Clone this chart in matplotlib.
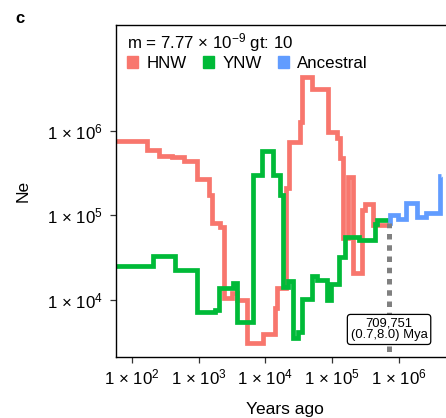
import numpy as np
import matplotlib
matplotlib.use("Agg")
import matplotlib.pyplot as plt
from matplotlib.patches import Patch

plt.rcParams['font.family'] = ['Liberation Sans', 'DejaVu Sans']
plt.rcParams['mathtext.fontset'] = 'custom'
plt.rcParams['mathtext.rm'] = 'Liberation Sans'
plt.rcParams['mathtext.it'] = 'Liberation Sans:italic'
plt.rcParams['mathtext.default'] = 'regular'

# step edges (years ago) and Ne levels between them
hnw_t = [40, 168, 259, 397, 607, 959, 1452, 1577, 2099, 2434, 3141, 3732, 5322, 9141,
         13970, 14820, 20420, 22870, 33060, 35070, 49530, 85970, 119700, 131300, 144200,
         174900, 207600, 277400, 311000, 413900, 709751]
hnw_ne = [755000, 591000, 506000, 485000, 438000, 266000, 174000, 80400, 72100, 10450,
          11970, 10110, 3070, 3950, 8020, 13830, 210300, 741000, 1277000, 4276000,
          3085000, 973000, 813000, 472000, 53500, 286000, 20630, 115500, 134900, 76800]

ynw_t = [40, 210, 445, 959, 1766, 2048, 3319, 3808, 6476, 8834, 13180, 16600, 18590,
         22080, 25700, 31190, 35070, 49530, 58780, 82990, 96330, 124700, 153400, 255400,
         438600, 475100, 709751]
ynw_ne = [25160, 33030, 22560, 7250, 7600, 13940, 15970, 5525, 299500, 580100, 299500,
          173800, 14320, 16860, 3517, 4207, 10170, 19160, 17180, 9970, 15420, 32590,
          55840, 51060, 78900, 89200]

anc_t = [709751, 730000, 979000, 1277000, 1885000, 2547000, 4121000, 4190000]
anc_ne = [81100, 100800, 89730, 140900, 94700, 105600, 291400]

split_year = 709751
split_text = "709,751\n(0.7,8.0) Mya"

x_ticks = [1e2, 1e3, 1e4, 1e5, 1e6]
x_labels = ["1 × 10$^{2}$", "1 × 10$^{3}$", "1 × 10$^{4}$", "1 × 10$^{5}$", "1 × 10$^{6}$"]
y_ticks = [1e4, 1e5, 1e6]
y_labels = ["1 × 10$^{4}$", "1 × 10$^{5}$", "1 × 10$^{6}$"]

colors = {'HNW': '#F8766D', 'YNW': '#00BA38', 'Ancestral': '#619CFF'}


def stairs(edges, levels):
    xs, ys = [], []
    for i, lv in enumerate(levels):
        xs += [edges[i], edges[i + 1]]
        ys += [lv, lv]
    return xs, ys


fig = plt.figure(figsize=(4.46, 4.18), dpi=100)
ax = fig.add_axes([0.2601, 0.1459, 0.7399, 0.7943])
ax.set_xscale('log')
ax.set_yscale('log')

for name, t, ne in [('HNW', hnw_t, hnw_ne), ('YNW', ynw_t, ynw_ne),
                    ('Ancestral', anc_t, anc_ne)]:
    xs, ys = stairs(t, ne)
    ax.plot(xs, ys, color=colors[name], lw=3.4, solid_joinstyle='miter',
            solid_capstyle='butt', zorder=2)

ax.plot([split_year, split_year], [1, hnw_ne[-1] * 1.05], color='#808080', lw=3.6,
        linestyle=(0, (1.1, 1.15)), dash_capstyle='butt', zorder=3)
ax.annotate(split_text, xy=(split_year, 0.083), xycoords=('data', 'axes fraction'),
            ha='center', va='center', fontsize=9.4, linespacing=0.95, zorder=5,
            bbox=dict(boxstyle='round,pad=0.25,rounding_size=0.25', fc='white',
                      ec='black', lw=0.9))

ax.set_xlim(58.2, 5.05e6)
ax.set_ylim(2120, 1.77e7)
ax.set_xticks(x_ticks)
ax.set_xticklabels(x_labels)
ax.set_yticks(y_ticks)
ax.set_yticklabels(y_labels)
ax.minorticks_off()
ax.tick_params(axis='both', length=4.5, width=0.9, color='#333333', labelsize=12.2,
               labelcolor='black')
ax.tick_params(axis='x', pad=3)
ax.tick_params(axis='y', pad=5)
for side in ['left', 'top', 'bottom']:
    ax.spines[side].set_linewidth(1.0)
ax.spines['right'].set_visible(False)

ax.set_xlabel("Years ago", fontsize=12.5)
ax.xaxis.set_label_coords(0.512, -0.134)
ax.set_ylabel("Ne", fontsize=12.5)
ax.yaxis.set_label_coords(-0.26, 0.5)

handles = [Patch(color=colors[k], label=k) for k in ['HNW', 'YNW', 'Ancestral']]
leg = ax.legend(handles=handles, ncol=3, loc='upper left', bbox_to_anchor=(0.034, 0.983),
                title=r"m = 7.77 $\times$ 10$^{-9}$ gt: 10", title_fontsize=12.2, fontsize=12.2,
                frameon=False, handlelength=0.65, handleheight=0.65, handletextpad=0.5,
                columnspacing=0.95, borderpad=0, borderaxespad=0, labelspacing=0.15,
                alignment='left')

fig.text(0.034, 0.945, "c", fontsize=12, fontweight='bold', va='baseline')

fig.savefig("out.png", dpi=100)
